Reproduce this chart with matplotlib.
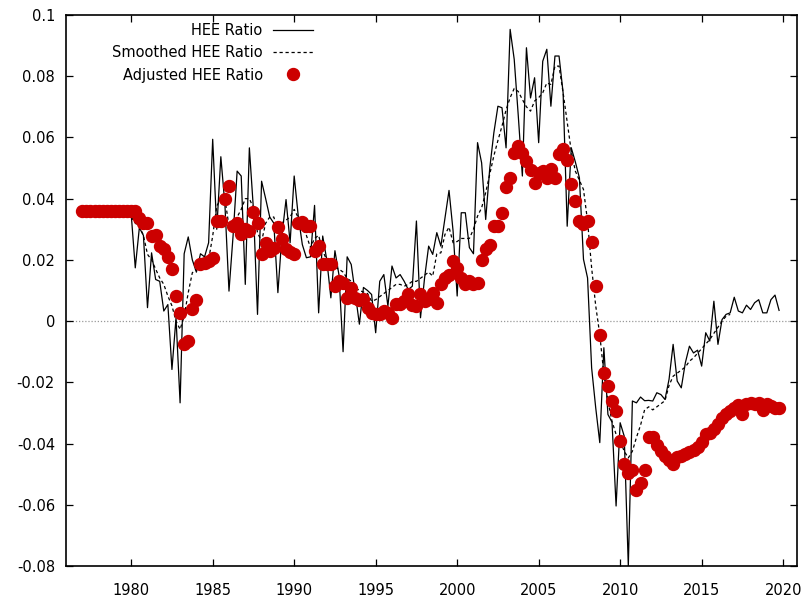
import numpy as np
import matplotlib.pyplot as plt
from matplotlib.ticker import FuncFormatter

plt.rcParams['font.family'] = ['DejaVu Sans']
plt.rcParams['font.size'] = 10

# quarterly HEE ratio, 1980Q1 - 2019Q4
hee_ratio = [
    0.035, 0.0174, 0.0305, 0.028,      # 1980
    0.0044, 0.0223, 0.0136, 0.013,     # 1981
    0.0033, 0.0054, -0.0158, 0.001,    # 1982
    -0.0267, 0.022, 0.0275, 0.020,     # 1983
    0.016, 0.022, 0.021, 0.0256,       # 1984
    0.0594, 0.030, 0.0537, 0.038,      # 1985
    0.0098, 0.0278, 0.049, 0.0474,     # 1986
    0.012, 0.0566, 0.0365, 0.0022,     # 1987
    0.0457, 0.040, 0.034, 0.032,       # 1988
    0.0093, 0.028, 0.0397, 0.0256,     # 1989
    0.0474, 0.0343, 0.025, 0.0207,     # 1990
    0.021, 0.0378, 0.0027, 0.0278,     # 1991
    0.020, 0.0076, 0.023, 0.015,       # 1992
    -0.010, 0.021, 0.0185, 0.009,      # 1993
    -0.001, 0.011, 0.010, 0.0087,      # 1994
    -0.0038, 0.013, 0.0152, 0.0049,    # 1995
    0.018, 0.0141, 0.0152, 0.013,      # 1996
    0.0103, 0.0114, 0.0327, 0.0011,    # 1997
    0.0141, 0.0245, 0.0218, 0.0289,    # 1998
    0.0245, 0.0337, 0.0427, 0.0294,    # 1999
    0.0082, 0.0354, 0.0354, 0.024,     # 2000
    0.022, 0.0583, 0.0517, 0.0332,     # 2001
    0.050, 0.0615, 0.0702, 0.0697,     # 2002
    0.0566, 0.0953, 0.0855, 0.067,     # 2003
    0.0474, 0.0893, 0.0729, 0.0795,    # 2004
    0.0583, 0.0849, 0.0888, 0.0702,    # 2005
    0.0866, 0.0866, 0.0746, 0.031,     # 2006
    0.0566, 0.052, 0.0468, 0.0202,     # 2007
    0.0141, -0.0153, -0.0283, -0.0397, # 2008
    -0.0087, -0.0305, -0.033, -0.0604, # 2009
    -0.0332, -0.0376, -0.080, -0.0261, # 2010
    -0.0267, -0.0248, -0.026, -0.0259, # 2011
    -0.0261, -0.0234, -0.024, -0.0256, # 2012
    -0.019, -0.0076, -0.0196, -0.0218, # 2013
    -0.0136, -0.0082, -0.0104, -0.0095,# 2014
    -0.0147, -0.0038, -0.0065, 0.0065, # 2015
    -0.0076, 0.0005, 0.0022, 0.0027,   # 2016
    0.0078, 0.0033, 0.0027, 0.0052,    # 2017
    0.0038, 0.006, 0.007, 0.0027,      # 2018
    0.0027, 0.007, 0.0085, 0.0035,     # 2019
]

# smoothed ratio, 1980Q1 - 2016Q4
smoothed_ratio = [
    0.034, 0.032, 0.031, 0.028,        # 1980
    0.0218, 0.020, 0.017, 0.0141,      # 1981
    0.012, 0.0082, 0.005, 0.000,       # 1982
    -0.0027, 0.0016, 0.0093, 0.0158,   # 1983
    0.017, 0.018, 0.019, 0.020,        # 1984
    0.0278, 0.0376, 0.040, 0.040,      # 1985
    0.031, 0.0321, 0.034, 0.0365,      # 1986
    0.040, 0.040, 0.037, 0.0289,       # 1987
    0.0261, 0.032, 0.034, 0.034,       # 1988
    0.0294, 0.0321, 0.033, 0.034,      # 1989
    0.0365, 0.0338, 0.030, 0.028,      # 1990
    0.024, 0.027, 0.028, 0.0229,       # 1991
    0.020, 0.019, 0.0174, 0.017,       # 1992
    0.016, 0.014, 0.013, 0.011,        # 1993
    0.010, 0.0095, 0.009, 0.0065,      # 1994
    0.007, 0.008, 0.009, 0.010,        # 1995
    0.011, 0.012, 0.012, 0.0114,       # 1996
    0.012, 0.013, 0.013, 0.014,        # 1997
    0.015, 0.016, 0.0147, 0.022,       # 1998
    0.0223, 0.0283, 0.0307, 0.0256,    # 1999
    0.026, 0.027, 0.027, 0.027,        # 2000
    0.030, 0.0343, 0.037, 0.042,       # 2001
    0.048, 0.054, 0.059, 0.0637,       # 2002
    0.069, 0.073, 0.076, 0.075,        # 2003
    0.0724, 0.070, 0.0686, 0.0719,     # 2004
    0.073, 0.0746, 0.0778, 0.0773,     # 2005
    0.0833, 0.0833, 0.0746, 0.065,     # 2006
    0.0555, 0.049, 0.046, 0.043,       # 2007
    0.0327, 0.0174, 0.005, -0.0044,    # 2008
    -0.0174, -0.0261, -0.0327, -0.037, # 2009
    -0.0392, -0.0425, -0.0447, -0.0425,# 2010
    -0.038, -0.034, -0.029, -0.028,    # 2011
    -0.029, -0.028, -0.027, -0.026,    # 2012
    -0.021, -0.018, -0.017, -0.016,    # 2013
    -0.015, -0.0131, -0.012, -0.0105,  # 2014
    -0.009, -0.0075, -0.006, -0.004,   # 2015
    -0.002, 0.000, 0.0016, 0.0022,     # 2016
]

# adjusted ratio, 1977Q1 - 2019Q4
adjusted_ratio = [
    0.036, 0.036, 0.036, 0.036,        # 1977
    0.036, 0.036, 0.036, 0.036,        # 1978
    0.036, 0.036, 0.036, 0.036,        # 1979
    0.036, 0.036, 0.0338, 0.032,       # 1980
    0.032, 0.0278, 0.028, 0.0247,      # 1981
    0.0234, 0.021, 0.0169, 0.0082,     # 1982
    0.0025, -0.0076, -0.0065, 0.0038,  # 1983
    0.007, 0.0185, 0.019, 0.0195,      # 1984
    0.0207, 0.0327, 0.0327, 0.040,     # 1985
    0.0441, 0.0312, 0.0321, 0.0283,    # 1986
    0.030, 0.0294, 0.0356, 0.0321,     # 1987
    0.0218, 0.0254, 0.0229, 0.024,     # 1988
    0.0307, 0.0267, 0.0234, 0.0225,    # 1989
    0.022, 0.0321, 0.0324, 0.031,      # 1990
    0.031, 0.023, 0.0245, 0.0185,      # 1991
    0.0187, 0.0185, 0.0114, 0.013,     # 1992
    0.0125, 0.0076, 0.0109, 0.0076,    # 1993
    0.007, 0.0071, 0.0044, 0.0027,     # 1994
    0.0022, 0.0024, 0.0033, 0.0025,    # 1995
    0.0009, 0.0057, 0.0057, 0.0065,    # 1996
    0.0089, 0.0054, 0.0049, 0.0089,    # 1997
    0.0065, 0.0071, 0.0093, 0.006,     # 1998
    0.012, 0.0141, 0.0152, 0.0196,     # 1999
    0.0174, 0.0141, 0.012, 0.013,      # 2000
    0.012, 0.0125, 0.020, 0.0235,      # 2001
    0.025, 0.031, 0.031, 0.0354,       # 2002
    0.0439, 0.0468, 0.055, 0.0572,     # 2003
    0.055, 0.0523, 0.0493, 0.045,      # 2004
    0.0485, 0.049, 0.0468, 0.0497,     # 2005
    0.0468, 0.0547, 0.0563, 0.0526,    # 2006
    0.0447, 0.0392, 0.0327, 0.0318,    # 2007
    0.0327, 0.0259, 0.0114, -0.0046,   # 2008
    -0.0169, -0.0212, -0.0261, -0.0294,# 2009
    -0.0392, -0.0468, -0.0495, -0.0485,# 2010
    -0.0553, -0.0528, -0.0485, -0.0379,# 2011
    -0.038, -0.0405, -0.0425, -0.044,  # 2012
    -0.0455, -0.0466, -0.0445, -0.0441,# 2013
    -0.0435, -0.0428, -0.042, -0.041,  # 2014
    -0.0394, -0.0368, -0.0367, -0.0354,# 2015
    -0.0335, -0.0318, -0.0305, -0.0294,# 2016
    -0.0283, -0.0275, -0.0303, -0.027, # 2017
    -0.0267, -0.027, -0.0267, -0.0289, # 2018
    -0.0272, -0.0278, -0.0283, -0.0283,# 2019
]

hee_t = 1980 + np.arange(len(hee_ratio)) / 4
smooth_t = 1980 + np.arange(len(smoothed_ratio)) / 4
adj_t = 1977 + np.arange(len(adjusted_ratio)) / 4

fig = plt.figure(figsize=(8.06, 6.01), dpi=100)
ax = fig.add_axes([66 / 806, 35 / 601, 731 / 806, 551 / 601])

ax.axhline(0, color='#999999', lw=0.9, ls=(0, (1, 1.5)), zorder=1)
ax.plot(hee_t, hee_ratio, color='black', lw=0.9, label='HEE Ratio', zorder=2)
ax.plot(smooth_t, smoothed_ratio, color='black', lw=0.9, ls=(0, (2.6, 2.2)),
        label='Smoothed HEE Ratio', zorder=3)
ax.plot(adj_t, adjusted_ratio, ls='none', marker='o', ms=8.6, color='#cc0000',
        mec='#cc0000', label='Adjusted HEE Ratio', zorder=4)

ax.set_xlim(1976.0, 2020.85)
ax.set_ylim(-0.08, 0.1)
ax.set_xticks(range(1980, 2021, 5))
ax.set_yticks(np.arange(-0.08, 0.1001, 0.02))
ax.yaxis.set_major_formatter(FuncFormatter(lambda v, p: '%g' % round(v, 4)))

ax.tick_params(direction='in', length=5, width=0.9, top=True, right=True,
               labelsize=10.5)
ax.tick_params(axis='x', pad=12)
ax.tick_params(axis='y', pad=8)
for s in ax.spines.values():
    s.set_linewidth(1.2)

leg = ax.legend(loc='upper right', bbox_to_anchor=(313 / 806, 1 - 23 / 601),
                bbox_transform=fig.transFigure, frameon=False, markerfirst=False,
                handlelength=2.75, handletextpad=0.7, labelspacing=0.5,
                borderpad=0, borderaxespad=0, fontsize=10.5)

fig.savefig('out.png', dpi=100)
